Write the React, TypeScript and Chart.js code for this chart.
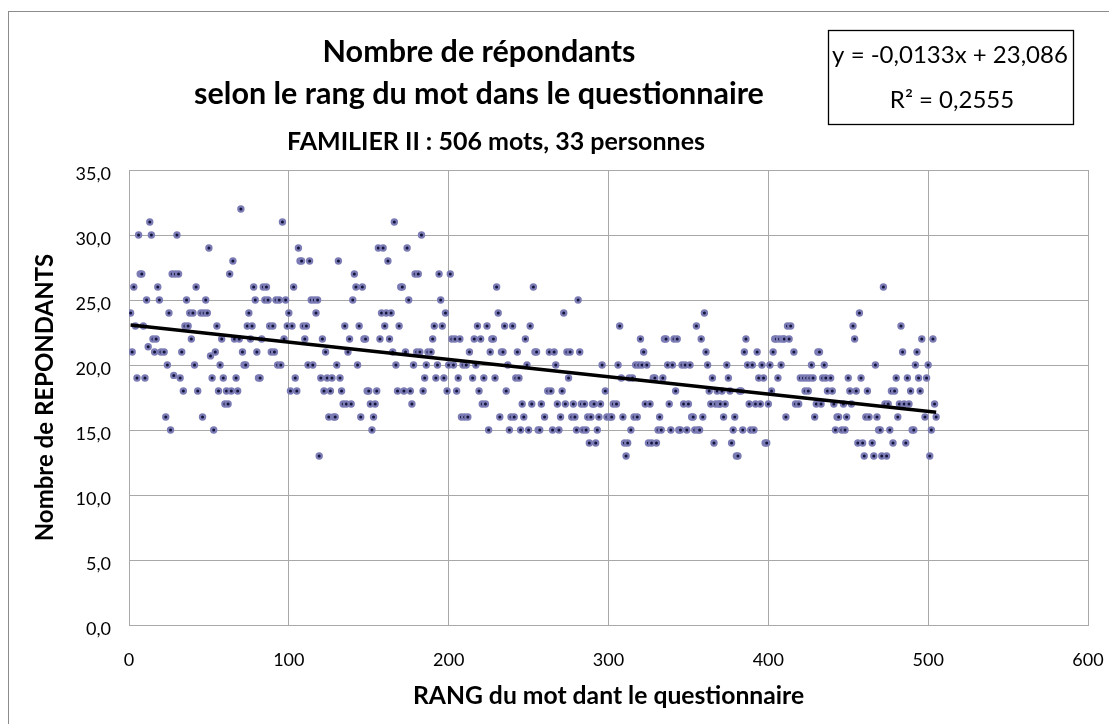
import React, { useEffect, useRef } from "react";
import { Chart, registerables } from "chart.js";

Chart.register(...registerables);

const FONT = 'Lato, "Open Sans", sans-serif';

const titleLines = ["Nombre de répondants", "selon le rang du mot dans le questionnaire"];
const subtitle = "FAMILIER II : 506 mots, 33 personnes";
const xAxisTitle = "RANG du mot dant le questionnaire";
const yAxisTitle = "Nombre de REPONDANTS";
const xTickLabels = ["0", "100", "200", "300", "400", "500", "600"];
const yTickLabels = ["0,0", "5,0", "10,0", "15,0", "20,0", "25,0", "30,0", "35,0"];
const equationLines = ["y = -0,0133x + 23,086", "R² = 0,2555"];
const trendSlope = -0.0133;
const trendIntercept = 23.086;

const rangs = [
  1, 2, 3, 4, 5, 6, 7, 8, 9, 10, 11, 12, 13, 14, 15, 16, 17, 18, 19, 20,
  22, 23, 24, 25, 26, 27, 28, 29, 30, 31, 32, 33, 34, 35, 36, 37, 38, 39, 40, 41,
  42, 43, 45, 46, 47, 48, 49, 50, 51, 52, 53, 54, 55, 56, 57, 58, 59, 60, 61, 62,
  63, 64, 65, 66, 67, 68, 69, 70, 71, 72, 73, 74, 75, 76, 77, 78, 79, 80, 81, 82,
  83, 84, 85, 86, 87, 88, 89, 90, 91, 92, 93, 94, 95, 96, 97, 98, 99, 100, 101, 102,
  103, 104, 105, 106, 107, 108, 109, 110, 111, 112, 113, 114, 115, 116, 117, 118, 119, 120, 121, 122,
  123, 124, 125, 126, 127, 128, 129, 130, 131, 132, 133, 134, 135, 136, 137, 138, 139, 140, 141, 142,
  143, 144, 145, 146, 147, 148, 149, 150, 151, 152, 153, 154, 155, 156, 157, 158, 159, 160, 161, 162,
  163, 164, 165, 166, 167, 168, 169, 170, 171, 172, 173, 174, 175, 176, 177, 178, 179, 180, 181, 182,
  183, 184, 185, 186, 187, 189, 190, 191, 192, 193, 194, 195, 196, 197, 198, 199, 200, 201, 202, 203,
  204, 205, 206, 207, 208, 209, 210, 211, 212, 213, 215, 216, 217, 218, 219, 220, 221, 222, 223, 224,
  225, 226, 227, 228, 229, 230, 231, 232, 233, 234, 235, 236, 237, 238, 239, 240, 241, 242, 243, 244,
  245, 246, 247, 248, 249, 250, 251, 252, 253, 254, 255, 256, 257, 258, 260, 262, 263, 264, 265, 266,
  267, 268, 269, 270, 271, 272, 273, 274, 275, 276, 277, 278, 279, 280, 281, 282, 283, 284, 285, 286,
  287, 288, 289, 290, 291, 292, 293, 294, 295, 296, 298, 299, 301, 302, 303, 305, 306, 307, 308, 309,
  310, 311, 312, 313, 314, 315, 316, 317, 318, 319, 320, 321, 322, 323, 324, 325, 326, 327, 328, 329,
  330, 331, 332, 333, 334, 335, 336, 337, 338, 339, 340, 341, 342, 343, 344, 345, 346, 347, 348, 349,
  350, 351, 352, 353, 354, 355, 356, 357, 358, 359, 360, 361, 362, 363, 364, 365, 366, 367, 368, 369,
  370, 371, 372, 373, 374, 375, 376, 377, 378, 379, 380, 381, 382, 383, 384, 385, 386, 387, 388, 389,
  390, 391, 392, 393, 394, 395, 396, 397, 398, 399, 400, 401, 402, 403, 404, 405, 406, 407, 408, 409,
  410, 411, 412, 413, 414, 416, 417, 419, 420, 422, 423, 424, 425, 426, 427, 428, 429, 430, 431, 432,
  433, 434, 435, 436, 437, 439, 440, 441, 442, 443, 444, 446, 447, 448, 449, 450, 451, 452, 453, 454,
  455, 456, 457, 458, 459, 460, 461, 462, 463, 465, 466, 467, 468, 469, 470, 471, 472, 473, 474, 475,
  476, 477, 478, 479, 480, 481, 482, 483, 484, 485, 486, 487, 488, 489, 490, 491, 492, 493, 494, 495,
  496, 498, 499, 500, 501, 502, 503, 504, 505,
];

const repondants = [
  24, 21, 26, 23, 19, 30, 27, 27, 23, 19, 25, 21.4, 31, 30, 22, 21, 22, 26, 25, 21,
  21, 16, 20, 24, 15, 27, 19.2, 27, 30, 27, 19, 21, 18, 23, 25, 23, 24, 22, 24, 20,
  26, 18, 24, 16, 24, 25, 24, 29, 20.7, 19, 15, 21, 23, 18, 20, 22, 19, 17, 18, 17,
  27, 18, 28, 22, 19, 18, 22, 32, 21, 20, 20, 23, 24, 22, 23, 26, 25, 21, 19, 19,
  22, 26, 25, 26, 25, 23, 21, 23, 21, 25, 20, 25, 20, 31, 22, 25, 23, 24, 18, 23,
  26, 19, 18, 29, 28, 28, 23, 22, 23, 20, 28, 25, 20, 25, 24, 25, 13, 19, 22, 18,
  21, 19, 16, 18, 19, 16, 16, 20, 28, 19, 18, 17, 23, 17, 21, 22, 17, 25, 27, 26,
  20, 23, 16, 26, 22, 22, 18, 18, 17, 15, 16, 17, 18, 29, 22, 24, 29, 23, 24, 28,
  22, 24, 21, 31, 20, 18, 23, 26, 26, 18, 21, 29, 25, 18, 17, 20, 27, 21, 27, 21,
  30, 18, 19, 20, 21, 21, 22, 23, 19, 20, 27, 25, 23, 19, 24, 18, 20, 27, 22, 20,
  22, 18, 19, 22, 16, 20, 16, 20, 16, 21, 19, 22, 20, 23, 18, 22, 17, 19, 17, 23,
  15, 21, 22, 22, 19, 26, 24, 16, 21, 21, 23, 18, 20, 15, 16, 23, 16, 19, 21, 19,
  15, 17, 16, 22, 20, 15, 23, 17, 26, 21, 21, 15, 15, 17, 16, 18, 21, 18, 15, 21,
  20, 17, 15, 16, 18, 24, 17, 21, 19, 21, 16, 17, 16, 15, 25, 21, 17, 15, 17, 15,
  16, 14, 16, 17, 17, 14, 15, 16, 17, 20, 18, 16, 16, 16, 17, 17, 20, 23, 19, 16,
  14, 13, 14, 19, 15, 19, 16, 20, 16, 20, 22, 20, 21, 17, 20, 14, 17, 14, 19, 19,
  14, 15, 16, 15, 19, 22, 22, 20, 17, 15, 20, 22, 18, 22, 15, 15, 20, 17, 20, 15,
  17, 20, 16, 16, 15, 23, 15, 15, 22, 16, 24, 21, 20, 18, 17, 19, 14, 17, 18, 17,
  17, 18, 16, 17, 20, 19, 18, 14, 15, 16, 13, 13, 18, 18, 15, 21, 22, 20, 17, 15,
  20, 15, 17, 21, 19, 17, 20, 19, 14, 14, 17, 20, 18, 21, 22, 22, 19, 22, 20, 22,
  22, 16, 23, 22, 23, 21, 17, 17, 19, 19, 18, 19, 18, 19, 20, 19, 16, 17, 21, 21,
  17, 19, 20, 19, 18, 19, 18, 17, 15, 16, 16, 15, 17, 15, 16, 19, 18, 17, 23, 22,
  18, 14, 24, 19, 14, 13, 16, 18, 16, 14, 13, 20, 16, 15, 15, 13, 26, 17, 13, 17,
  15, 18, 14, 18, 19, 16, 17, 23, 21, 17, 14, 19, 17, 18, 15, 15, 20, 21, 19, 18,
  22, 16, 19, 20, 13, 15, 22, 17, 16,
];

const textPlugin = {
  id: "chartTexts",
  afterDraw(chart: any) {
    const ctx = chart.ctx as CanvasRenderingContext2D;
    ctx.save();
    ctx.fillStyle = "#000";
    ctx.textAlign = "center";
    ctx.textBaseline = "alphabetic";
    ctx.font = `bold 30.5px ${FONT}`;
    ctx.fillText(titleLines[0], 470, 50);
    ctx.fillText(titleLines[1], 470, 92);
    ctx.font = `bold 25px ${FONT}`;
    ctx.fillText(subtitle, 487, 138);
    ctx.lineWidth = 1.3;
    ctx.strokeStyle = "#000";
    ctx.strokeRect(819.5, 18.5, 245, 94);
    ctx.font = `24px ${FONT}`;
    ctx.fillText(equationLines[0], 941, 51);
    ctx.fillText(equationLines[1], 943, 96);
    ctx.restore();
  },
};

export default function App() {
  const canvasRef = useRef<HTMLCanvasElement | null>(null);

  useEffect(() => {
    if (!canvasRef.current) return;
    const points = rangs.map((r, i) => ({ x: r, y: repondants[i] }));
    const xMin = Math.min(...rangs);
    const xMax = Math.max(...rangs);
    const trend = [
      { x: xMin, y: trendSlope * xMin + trendIntercept },
      { x: xMax, y: trendSlope * xMax + trendIntercept },
    ];
    const chart = new Chart(canvasRef.current, {
      type: "scatter",
      data: {
        datasets: [
          {
            type: "line",
            data: trend,
            borderColor: "#000",
            borderWidth: 3.5,
            pointRadius: 0,
            fill: false,
            order: 0,
          } as any,
          {
            data: points,
            pointRadius: 2.6,
            pointBorderWidth: 2.2,
            pointBackgroundColor: "#14143a",
            pointBorderColor: "#7b7bb5",
            order: 1,
          } as any,
        ],
      },
      options: {
        animation: false,
        responsive: false,
        devicePixelRatio: 1,
        layout: { padding: { top: 158, right: 21, left: 0, bottom: 0 } },
        plugins: {
          legend: { display: false },
          tooltip: { enabled: false },
          title: { display: false },
        },
        scales: {
          x: {
            type: "linear",
            min: 0,
            max: 600,
            ticks: {
              stepSize: 100,
              color: "#000",
              padding: 24,
              font: { family: FONT, size: 18 },
              callback: (v: any) => xTickLabels[Math.round(Number(v) / 100)],
            },
            grid: { color: "#a8a8a8", drawTicks: false, lineWidth: 1 },
            border: { color: "#a8a8a8" },
            title: {
              display: true,
              text: xAxisTitle,
              color: "#000",
              font: { family: FONT, size: 24.7, weight: "bold" },
              padding: { top: 0, bottom: 13 },
            },
            afterFit: (s: any) => {
              s.height = 99;
              s.paddingLeft = 0;
              s.paddingRight = 0;
            },
          },
          y: {
            type: "linear",
            min: 0,
            max: 35,
            ticks: {
              stepSize: 5,
              color: "#000",
              padding: 18,
              labelOffset: 4,
              font: { family: FONT, size: 18 },
              callback: (v: any) => yTickLabels[Math.round(Number(v) / 5)],
            },
            grid: { color: "#a8a8a8", drawTicks: false, lineWidth: 1 },
            border: { color: "#a8a8a8" },
            title: {
              display: true,
              text: yAxisTitle,
              color: "#000",
              font: { family: FONT, size: 24, weight: "bold" },
              padding: { top: 22, bottom: 0 },
            },
            afterFit: (s: any) => {
              s.width = 120;
            },
          },
        },
      },
      plugins: [textPlugin],
    } as any);
    return () => chart.destroy();
  }, []);

  return (
    <div
      style={{
        position: "absolute",
        left: 8,
        top: 11,
        width: 1101,
        height: 713,
        boxSizing: "border-box",
        borderLeft: "1px solid #8c8c8c",
        borderTop: "1px solid #8c8c8c",
        background: "#fff",
      }}
    >
      <canvas ref={canvasRef} width={1100} height={712} style={{ display: "block" }} />
    </div>
  );
}
